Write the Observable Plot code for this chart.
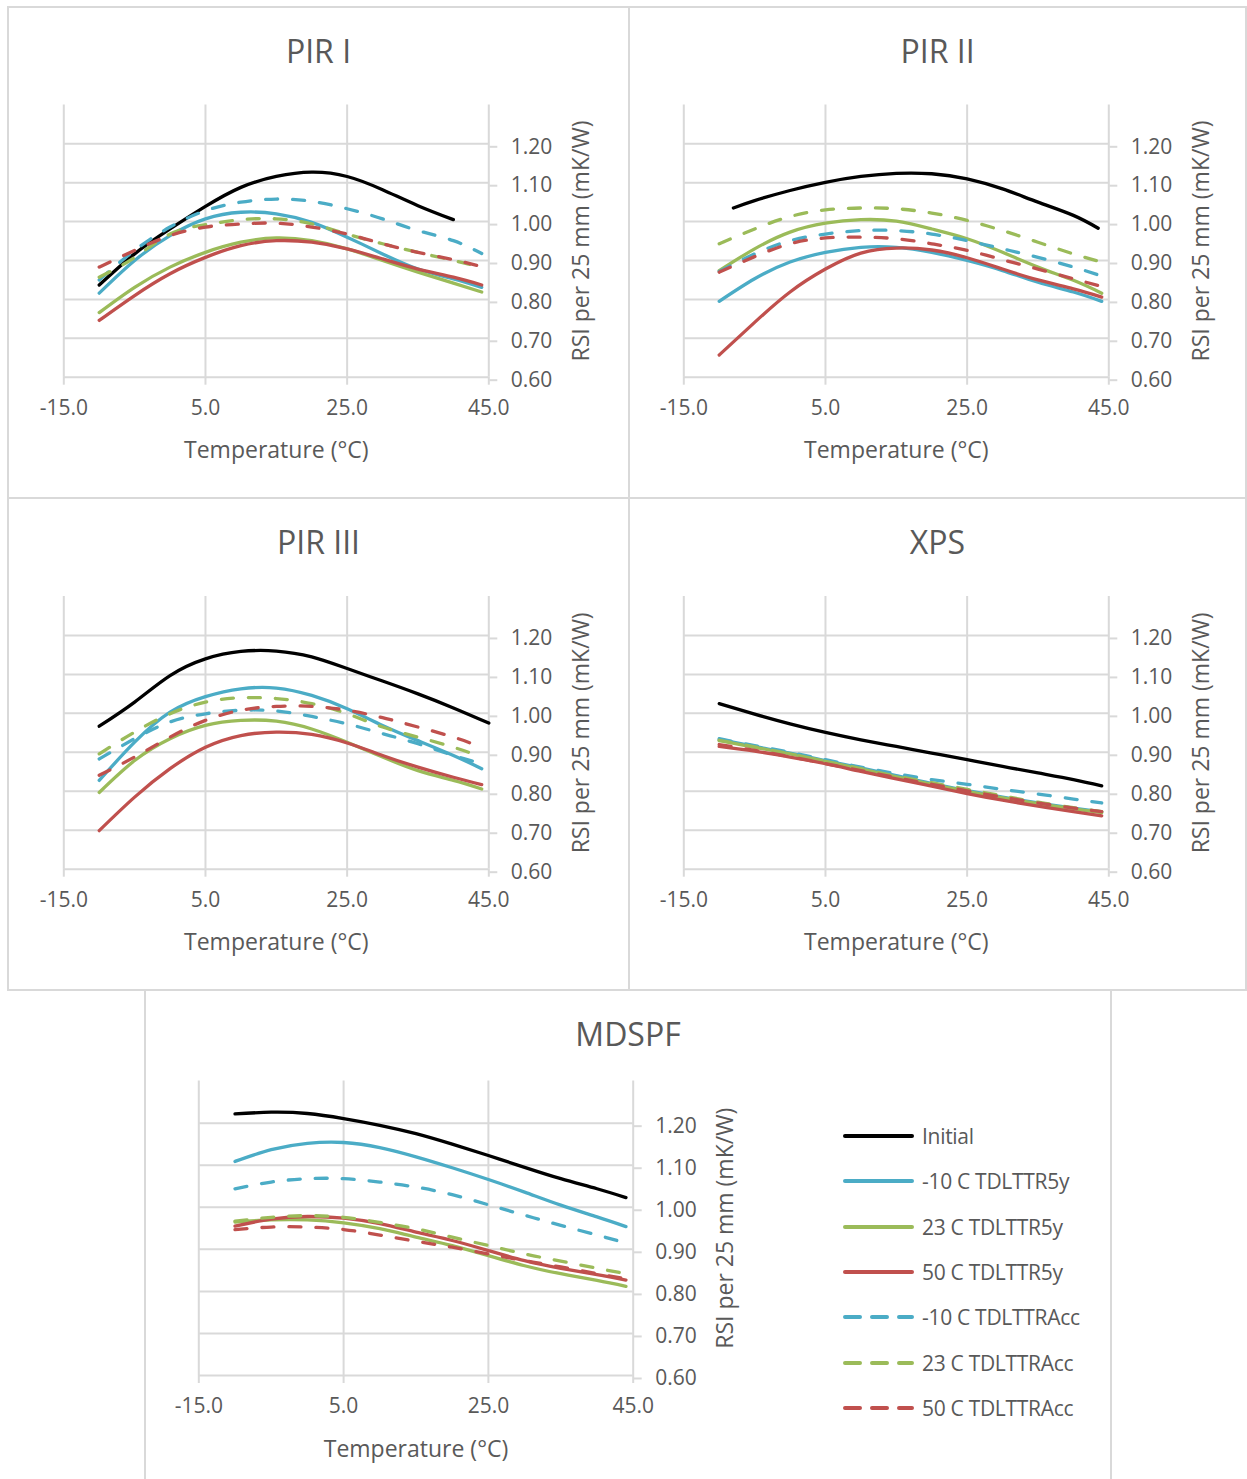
<!DOCTYPE html>
<html><head><meta charset="utf-8">
<script src="https://cdn.jsdelivr.net/npm/d3@7"></script>
<script src="https://cdn.jsdelivr.net/npm/@observablehq/plot@0.6"></script>
<style>
body{margin:0;background:#fff;}
#root{position:relative;width:1247px;height:1479px;overflow:hidden;font-family:"Open Sans",sans-serif;color:#595959;background:#fff;}
.panel{position:absolute;box-sizing:border-box;border:2px solid #d9d9d9;}
.title{position:absolute;font-size:32px;line-height:32px;text-align:center;white-space:nowrap;color:#595959;}
.plot{position:absolute;}
.leg{position:absolute;height:30px;display:flex;align-items:center;font-size:21px;letter-spacing:-0.3px;color:#595959;white-space:nowrap;}
.leg svg{margin-right:6px;}
</style></head>
<body><div id="root"></div>
<script>
// ---- data ----
const xTicks = [-15, 5, 25, 45];
const yTicks = [0.6, 0.7, 0.8, 0.9, 1.0, 1.1, 1.2];
const seriesNames = ["Initial", "-10 C TDLTTR5y", "23 C TDLTTR5y", "50 C TDLTTR5y", "-10 C TDLTTRAcc", "23 C TDLTTRAcc", "50 C TDLTTRAcc"];
const temps = [-10, -5, 0, 5, 10, 15, 20, 25, 30, 35, 40, 44];
const tempsInitialPIRI = [-10, -5, 0, 5, 10, 15, 20, 25, 30, 35, 40];
const tempsInitialPIRII = [-8, -5, 0, 5, 10, 15, 20, 25, 30, 35, 40, 43.5];
const tempsInitialPIRIII = [-10, -5, 0, 5, 10, 15, 20, 25, 30, 35, 40, 45];

// values per series, in the order of seriesNames
const pirI = [
  [0.837, 0.917, 0.981, 1.039, 1.088, 1.116, 1.127, 1.116, 1.082, 1.041, 1.005],
  [0.816, 0.900, 0.964, 1.007, 1.024, 1.020, 0.998, 0.960, 0.917, 0.878, 0.853, 0.831],
  [0.766, 0.831, 0.883, 0.921, 0.947, 0.958, 0.951, 0.930, 0.900, 0.870, 0.842, 0.819],
  [0.746, 0.810, 0.866, 0.908, 0.938, 0.951, 0.947, 0.930, 0.904, 0.878, 0.857, 0.837],
  [0.850, 0.926, 0.986, 1.028, 1.050, 1.058, 1.052, 1.033, 1.007, 0.977, 0.951, 0.918],
  [0.857, 0.908, 0.968, 0.992, 1.005, 1.007, 0.994, 0.968, 0.943, 0.921, 0.900, 0.883],
  [0.883, 0.926, 0.964, 0.986, 0.994, 0.996, 0.986, 0.968, 0.943, 0.921, 0.902, 0.884]
];
const pirII = [
  [1.035, 1.054, 1.080, 1.101, 1.116, 1.124, 1.123, 1.110, 1.084, 1.050, 1.016, 0.983],
  [0.795, 0.853, 0.896, 0.921, 0.934, 0.934, 0.921, 0.900, 0.874, 0.844, 0.819, 0.795],
  [0.874, 0.930, 0.973, 0.996, 1.005, 1.001, 0.981, 0.956, 0.921, 0.883, 0.849, 0.816],
  [0.657, 0.741, 0.819, 0.878, 0.919, 0.932, 0.927, 0.907, 0.878, 0.850, 0.827, 0.806],
  [0.872, 0.917, 0.951, 0.968, 0.977, 0.977, 0.968, 0.951, 0.930, 0.908, 0.883, 0.860],
  [0.943, 0.981, 1.013, 1.030, 1.035, 1.033, 1.022, 1.003, 0.977, 0.947, 0.917, 0.896],
  [0.870, 0.910, 0.943, 0.958, 0.960, 0.956, 0.943, 0.926, 0.902, 0.878, 0.853, 0.833]
];
const pirIII = [
  [0.967, 1.029, 1.097, 1.140, 1.159, 1.160, 1.145, 1.115, 1.083, 1.050, 1.014, 0.975],
  [0.828, 0.926, 1.003, 1.043, 1.063, 1.065, 1.046, 1.012, 0.969, 0.930, 0.892, 0.858],
  [0.797, 0.879, 0.935, 0.969, 0.982, 0.980, 0.960, 0.926, 0.888, 0.853, 0.828, 0.806],
  [0.699, 0.785, 0.858, 0.913, 0.943, 0.952, 0.946, 0.924, 0.892, 0.862, 0.836, 0.817],
  [0.883, 0.935, 0.978, 0.999, 1.008, 1.006, 0.992, 0.973, 0.948, 0.922, 0.892, 0.871],
  [0.896, 0.952, 0.999, 1.029, 1.040, 1.038, 1.025, 0.999, 0.965, 0.939, 0.913, 0.888],
  [0.841, 0.888, 0.939, 0.982, 1.008, 1.018, 1.018, 1.008, 0.989, 0.965, 0.939, 0.913]
];
const xps = [
  [1.025, 0.998, 0.973, 0.951, 0.932, 0.915, 0.898, 0.881, 0.864, 0.847, 0.830, 0.814],
  [0.933, 0.915, 0.898, 0.879, 0.860, 0.840, 0.820, 0.802, 0.785, 0.770, 0.757, 0.747],
  [0.930, 0.913, 0.896, 0.877, 0.857, 0.837, 0.818, 0.800, 0.783, 0.768, 0.755, 0.745],
  [0.915, 0.903, 0.888, 0.871, 0.851, 0.832, 0.813, 0.794, 0.777, 0.762, 0.748, 0.737],
  [0.935, 0.917, 0.900, 0.881, 0.862, 0.845, 0.830, 0.818, 0.805, 0.793, 0.780, 0.770],
  [0.931, 0.914, 0.896, 0.877, 0.858, 0.839, 0.822, 0.805, 0.788, 0.772, 0.758, 0.748],
  [0.920, 0.905, 0.889, 0.871, 0.853, 0.835, 0.818, 0.801, 0.785, 0.770, 0.757, 0.748]
];
const mdspf = [
  [1.222, 1.226, 1.223, 1.211, 1.195, 1.175, 1.150, 1.123, 1.095, 1.068, 1.044, 1.023],
  [1.109, 1.137, 1.152, 1.154, 1.142, 1.120, 1.094, 1.066, 1.036, 1.005, 0.977, 0.954],
  [0.965, 0.970, 0.970, 0.963, 0.949, 0.929, 0.909, 0.885, 0.861, 0.842, 0.826, 0.812],
  [0.955, 0.972, 0.978, 0.974, 0.961, 0.941, 0.921, 0.897, 0.873, 0.855, 0.840, 0.827],
  [1.044, 1.060, 1.068, 1.068, 1.060, 1.048, 1.030, 1.006, 0.981, 0.957, 0.934, 0.915],
  [0.967, 0.976, 0.980, 0.976, 0.964, 0.949, 0.929, 0.909, 0.889, 0.872, 0.855, 0.842],
  [0.947, 0.953, 0.953, 0.947, 0.934, 0.919, 0.905, 0.889, 0.873, 0.858, 0.842, 0.830]
];

// ---- styles / layout ----
const seriesColors = ["#000000", "#4BACC6", "#9BBB59", "#C0504D", "#4BACC6", "#9BBB59", "#C0504D"];
const seriesDashed = [false, false, false, false, true, true, true];
const textColor = "#595959";
const gridColor = "#d9d9d9";

const panels = [
  {title: "PIR I", values: pirI, initTemps: tempsInitialPIRI,
   box: {left: 7, top: 6, width: 623, height: 493}, frame: {x0: 63.3, x1: 488.3, yTop: 104.4, yBot: 376.7}},
  {title: "PIR II", values: pirII, initTemps: tempsInitialPIRII,
   box: {left: 628, top: 6, width: 619, height: 493}, frame: {x0: 683.3, x1: 1108.3, yTop: 104.4, yBot: 376.7}},
  {title: "PIR III", values: pirIII, initTemps: tempsInitialPIRIII,
   box: {left: 7, top: 497, width: 623, height: 494}, frame: {x0: 63.3, x1: 488.3, yTop: 596, yBot: 868.7}},
  {title: "XPS", values: xps, initTemps: temps,
   box: {left: 628, top: 497, width: 619, height: 494}, frame: {x0: 683.3, x1: 1108.3, yTop: 596, yBot: 868.7}},
  {title: "MDSPF", values: mdspf, initTemps: temps,
   box: {left: 144, top: 989, width: 968, height: 494}, frame: {x0: 198.3, x1: 632.7, yTop: 1080.6, yBot: 1375}}
];

const root = document.getElementById("root");

for (const p of panels) {
  const {box, frame} = p;
  const div = document.createElement("div");
  div.className = "panel";
  Object.assign(div.style, {left: box.left + "px", top: box.top + "px", width: box.width + "px", height: box.height + "px"});
  root.appendChild(div);

  const rows = [];
  p.values.forEach((vals, i) => {
    const ts = i === 0 ? p.initTemps : temps;
    vals.forEach((v, j) => rows.push({series: seriesNames[i], t: ts[j], v}));
  });

  const lineMarks = seriesNames.map((name, i) => Plot.line(rows.filter(r => r.series === name), {
    x: "t", y: "v", stroke: seriesColors[i], strokeWidth: 3.3,
    strokeDasharray: seriesDashed[i] ? "12,15" : null,
    strokeLinecap: "round", strokeLinejoin: "round", curve: "natural"
  }));

  const plot = Plot.plot({
    width: box.width,
    height: box.height,
    marginLeft: frame.x0 - box.left,
    marginRight: box.left + box.width - frame.x1,
    marginTop: frame.yTop - box.top,
    marginBottom: box.top + box.height - frame.yBot,
    style: {fontFamily: "'Open Sans', sans-serif", color: textColor, background: "transparent", overflow: "visible"},
    x: {domain: [-15, 45]},
    y: {domain: [0.6, 1.3]},
    marks: [
      Plot.gridX(xTicks, {stroke: gridColor, strokeOpacity: 1, strokeWidth: 2}),
      Plot.gridY(yTicks, {stroke: gridColor, strokeOpacity: 1, strokeWidth: 2}),
      Plot.axisX(xTicks, {tickSize: 8, tickPadding: 15, stroke: gridColor, strokeWidth: 2,
        tickFormat: d => d.toFixed(1), fontSize: 21, label: null}),
      Plot.axisX([], {tickSize: 0, label: "Temperature (°C)", labelAnchor: "center", labelArrow: "none",
        labelOffset: 81, fontSize: 23}),
      Plot.axisY(yTicks, {anchor: "right", tickSize: 8, tickPadding: 14, stroke: gridColor, strokeWidth: 2,
        tickFormat: d => d.toFixed(2), fontSize: 21, dy: 3, label: null}),
      Plot.axisY([], {anchor: "right", tickSize: 0, label: "RSI per 25 mm (mK/W)", labelAnchor: "center",
        labelArrow: "none", labelOffset: 100, fontSize: 23}),
      ...lineMarks
    ]
  });
  plot.classList.add("plot");
  plot.style.left = box.left + "px";
  plot.style.top = box.top + "px";
  root.appendChild(plot);

  const t = document.createElement("div");
  t.className = "title";
  t.textContent = p.title;
  Object.assign(t.style, {left: box.left + "px", width: box.width + "px", top: (box.top + 29) + "px"});
  root.appendChild(t);
}

// legend (bottom panel)
const legendX = 843, legendY0 = 1136, legendStep = 45.33;
seriesNames.forEach((name, i) => {
  const row = document.createElement("div");
  row.className = "leg";
  row.style.left = legendX + "px";
  row.style.top = (legendY0 + i * legendStep - 15) + "px";
  const svg = d3.create("svg").attr("width", 73).attr("height", 30);
  svg.append("line").attr("x1", 2).attr("x2", 69).attr("y1", 15).attr("y2", 15)
    .attr("stroke", seriesColors[i]).attr("stroke-width", 4).attr("stroke-linecap", "round")
    .attr("stroke-dasharray", seriesDashed[i] ? "15,12" : null);
  row.appendChild(svg.node());
  const span = document.createElement("span");
  span.textContent = name;
  row.appendChild(span);
  root.appendChild(row);
});
</script>
</body></html>
